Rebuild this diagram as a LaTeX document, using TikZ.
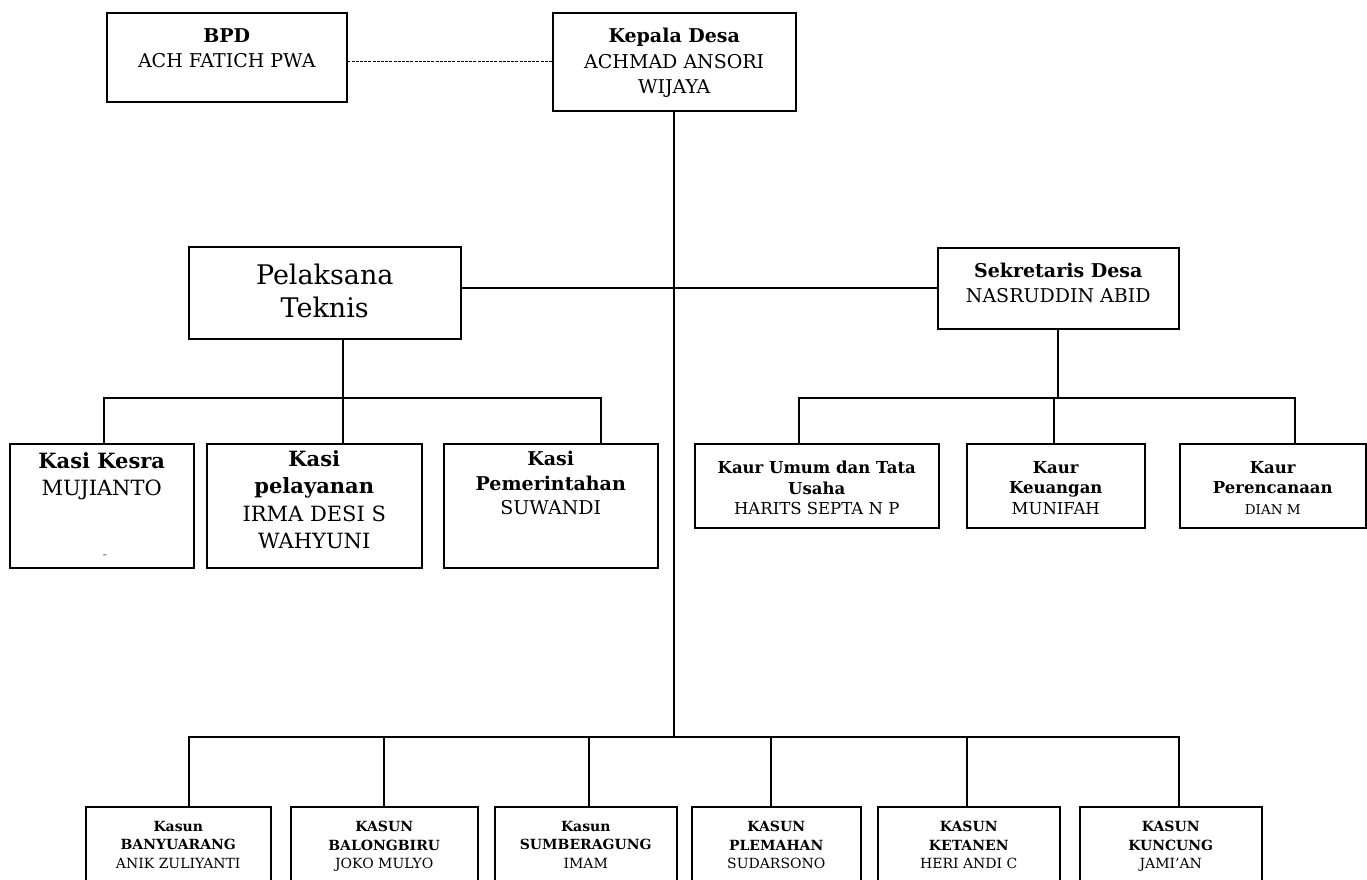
\documentclass[tikz,border=0pt]{standalone}
\usepackage{fontspec}
\setmainfont{DejaVu Serif}

\begin{document}
\begin{tikzpicture}[x=1pt, y=-1pt,
  box/.style={draw, line width=1.5pt, inner sep=0pt, anchor=north west},
  lbl/.style={anchor=north, align=center, inner sep=0pt},
  toptxt/.style={font=\fontsize{19}{25.5}\selectfont},
  teknistxt/.style={font=\fontsize{27}{33}\selectfont},
  kasitxt/.style={font=\fontsize{21}{27.5}\selectfont},
  kaurtxt/.style={font=\fontsize{16.5}{20.5}\selectfont},
  kasuntxt/.style={font=\fontsize{14}{18.5}\selectfont},
  link/.style={line width=1.6pt}]
  \fill[white] (0,0) rectangle (1367,879);
  \useasboundingbox (0,0) rectangle (1367,879);

  % top row
  \node[box, minimum width=240pt, minimum height=89pt, label={[lbl, toptxt, yshift=-16.1pt]north:{\textbf{BPD}\\ACH FATICH PWA}}] (bpd) at (106,12) {};
  \node[box, minimum width=243pt, minimum height=98pt, label={[lbl, toptxt, yshift=-16.1pt]north:{\textbf{Kepala Desa}\\ACHMAD ANSORI\\WIJAYA}}] (kepala) at (552,12) {};

  % second row
  \node[box, minimum width=272pt, minimum height=92pt, label={[lbl, teknistxt, yshift=-18.2pt]north:{Pelaksana\\Teknis}}] (pelaksana) at (188,246) {};
  \node[box, minimum width=241pt, minimum height=81pt, label={[lbl, toptxt, font=\fontsize{19}{25}\selectfont, yshift=-16.1pt]north:{\textbf{Sekretaris Desa}\\NASRUDDIN ABID}}] (sekdes) at (937,247) {};

  % kasi
  \node[box, minimum width=184pt, minimum height=124pt, label={[lbl, kasitxt, yshift=-9.3pt]north:{\textbf{Kasi Kesra}\\MUJIANTO}}] (kesra) at (9,443) {};
  \node[font=\fontsize{12}{12}\selectfont, text=black!70, inner sep=0pt] (kesradot) at (105,557) {-};
  \node[box, minimum width=215pt, minimum height=124pt, label={[lbl, kasitxt, yshift=-7.3pt]north:{\textbf{Kasi}\\\textbf{pelayanan}\\IRMA DESI S\\WAHYUNI}}] (pelayanan) at (206,443) {};
  \node[box, minimum width=214pt, minimum height=124pt, label={[lbl, kasitxt, font=\fontsize{19}{24.5}\selectfont, yshift=-8.1pt]north:{\textbf{Kasi}\\\textbf{Pemerintahan}\\SUWANDI}}] (pemerintahan) at (443,443) {};

  % kaur
  \node[box, minimum width=244pt, minimum height=84pt, label={[lbl, kaurtxt, yshift=-18pt]north:{\textbf{Kaur Umum dan Tata}\\\textbf{Usaha}\\HARITS SEPTA N P}}] (umum) at (694,443) {};
  \node[box, minimum width=178pt, minimum height=84pt, label={[lbl, kaurtxt, yshift=-18pt]north:{\textbf{Kaur}\\\textbf{Keuangan}\\MUNIFAH}}] (keuangan) at (966,443) {};
  \node[box, minimum width=186pt, minimum height=84pt, label={[lbl, kaurtxt, yshift=-18pt]north:{\textbf{Kaur}\\\textbf{Perencanaan}\\{\fontsize{13.5}{17}\selectfont DIAN M}}}] (perencanaan) at (1179,443) {};

  % kasun
  \node[box, minimum width=185pt, minimum height=100pt, label={[lbl, kasuntxt, yshift=-14.9pt]north:{\textbf{Kasun}\\\textbf{BANYUARANG}\\ANIK ZULIYANTI}}] (banyuarang) at (85,806) {};
  \node[box, minimum width=187pt, minimum height=100pt, label={[lbl, kasuntxt, yshift=-14.9pt]north:{\textbf{KASUN}\\\textbf{BALONGBIRU}\\JOKO MULYO}}] (balongbiru) at (290,806) {};
  \node[box, minimum width=182pt, minimum height=100pt, label={[lbl, kasuntxt, yshift=-14.9pt]north:{\textbf{Kasun}\\\textbf{SUMBERAGUNG}\\IMAM}}] (sumberagung) at (494,806) {};
  \node[box, minimum width=169pt, minimum height=100pt, label={[lbl, kasuntxt, yshift=-14.9pt]north:{\textbf{KASUN}\\\textbf{PLEMAHAN}\\SUDARSONO}}] (plemahan) at (691,806) {};
  \node[box, minimum width=182pt, minimum height=100pt, label={[lbl, kasuntxt, yshift=-14.9pt]north:{\textbf{KASUN}\\\textbf{KETANEN}\\HERI ANDI C}}] (ketanen) at (877,806) {};
  \node[box, minimum width=182pt, minimum height=100pt, label={[lbl, kasuntxt, yshift=-14.9pt]north:{\textbf{KASUN}\\\textbf{KUNCUNG}\\JAMI'AN}}] (kuncung) at (1079,806) {};

  % connectors
  \draw[line width=1.1pt, dash pattern=on 3pt off 1.2pt] (kepala.west) -- (kepala.west -| bpd.east);
  \coordinate (kasunbus) at (kepala.south |- 0,737);
  \draw[link] (kepala.south) -- (kasunbus);
  \draw[link] (sekdes.west) -- (sekdes.west -| pelaksana.east);

  \coordinate (teknisdrop) at ([xshift=18pt]pelaksana.south);
  \coordinate (teknisbus) at (teknisdrop |- 0,398);
  \draw[link] (teknisdrop) -- (teknisbus);
  \draw[link] ([xshift=2.5pt]kesra.north) |- (teknisbus);
  \draw[link] ([xshift=28.5pt]pelayanan.north) -- (teknisbus);
  \draw[link] ([xshift=50pt]pemerintahan.north) |- (teknisbus);

  \coordinate (kaurbus) at (sekdes.south |- 0,398);
  \draw[link] (sekdes.south) -- (kaurbus);
  \draw[link] ([xshift=-18pt]umum.north) |- (kaurbus);
  \draw[link] ([xshift=-2pt]keuangan.north) |- (kaurbus);
  \draw[link] ([xshift=22pt]perencanaan.north) |- (kaurbus);

  \foreach \k/\dx in {banyuarang/10.5, balongbiru/0, sumberagung/3.5, plemahan/-5.5, ketanen/-2, kuncung/8}
    \draw[link] ([xshift=\dx pt]\k.north) |- (kasunbus);
\end{tikzpicture}
\end{document}
